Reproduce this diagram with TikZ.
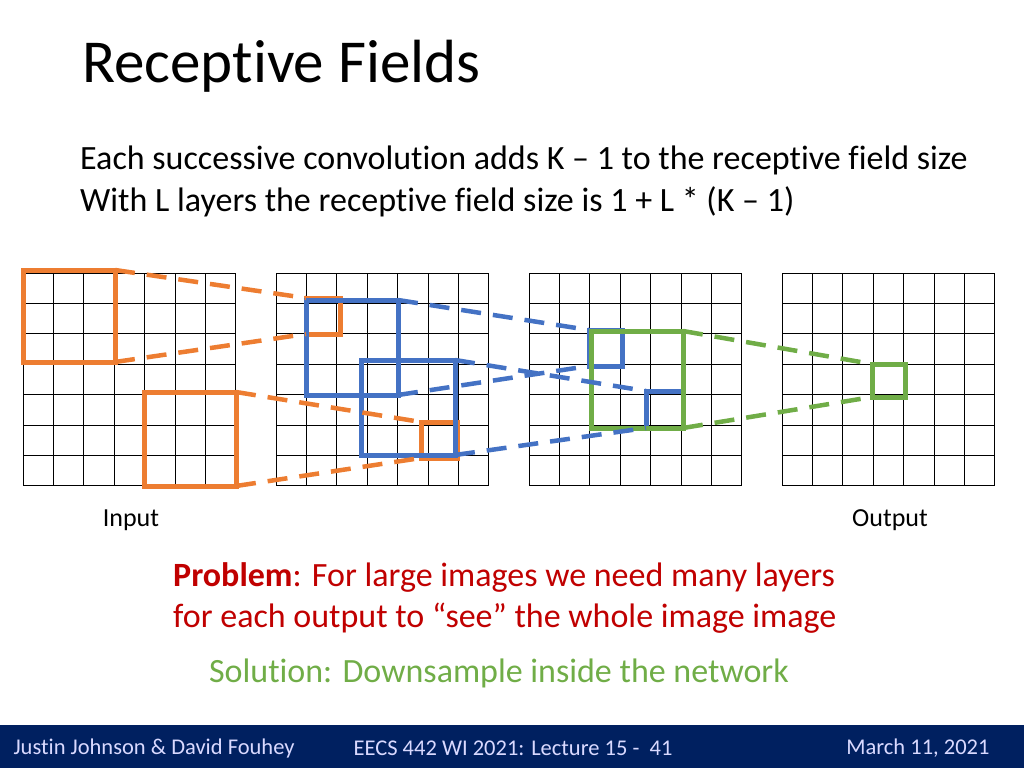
\documentclass[tikz,border=0pt]{standalone}
\usepackage{fontspec}
\setmainfont{Carlito}[RawFeature=-liga]
\definecolor{slideorange}{RGB}{237,125,49}
\definecolor{slideblue}{RGB}{68,114,196}
\definecolor{slidegreen}{RGB}{112,173,71}
\definecolor{slidered}{RGB}{192,0,0}
\definecolor{footerblue}{RGB}{0,32,96}
\usetikzlibrary{positioning}
\tikzset{
  gridline/.style={black, line width=1pt},
  field/.style={line width=5pt},
  link/.style={line width=4.5pt, dash pattern=on 20pt off 12pt},
  bodytext/.style={anchor=north west, align=left, font=\fontsize{34}{42}\selectfont, inner sep=0},
}
\begin{document}
\begin{tikzpicture}[x=1pt, y=-1pt]
  \useasboundingbox (0,0) rectangle (1024,768);

  \node [anchor=west, inner sep=0, font=\fontsize{61}{64}\selectfont] (title) at (82,66) {Receptive Fields};
  \node [bodytext] (body) at (80,146) {Each successive convolution adds K -- 1 to the receptive field size\\With L layers the receptive field size is 1 + L * (K -- 1)};

  % four 7x7 grids
  \foreach \gx in {23,276,529,782}
    \foreach \k in {0,...,7} {
      \draw [gridline] (\gx+\k*30.4,273) -- (\gx+\k*30.4,485.8);
      \draw [gridline] (\gx,273+\k*30.4) -- (\gx+212.8,273+\k*30.4);
    }

  % receptive fields (cells of 30.4)
  \draw [field, slideorange] (23,270) rectangle (115,362);
  \draw [field, slideorange] (144,392) rectangle (236,486);
  \draw [field, slideorange] (306,298) rectangle (340,334);
  \draw [field, slideorange] (421,422) rectangle (457,458);
  \draw [field, slideblue] (306,300) rectangle (398,395);
  \draw [field, slideblue] (361,360) rectangle (455,455);
  \draw [field, slideblue] (589,330) rectangle (622,366);
  \draw [field, slideblue] (646,391) rectangle (683,428);
  \draw [field, slidegreen] (591,331) rectangle (683,428);
  \draw [field, slidegreen] (872,364) rectangle (905,397);

  \coordinate (oa1) at (115,270); \coordinate (ob1) at (306,298);
  \coordinate (oa2) at (115,362); \coordinate (ob2) at (306,334);
  \coordinate (oc1) at (236,392); \coordinate (od1) at (421,422);
  \coordinate (oc2) at (236,486); \coordinate (od2) at (421,458);
  \coordinate (ba1) at (398,300); \coordinate (bb1) at (589,330);
  \coordinate (ba2) at (398,395); \coordinate (bb2) at (589,366);
  \coordinate (bc1) at (455,360); \coordinate (bd1) at (646,391);
  \coordinate (bc2) at (455,455); \coordinate (bd2) at (646,428);
  \coordinate (ga1) at (683,331); \coordinate (gb1) at (872,364);
  \coordinate (ga2) at (683,428); \coordinate (gb2) at (872,397);

  \foreach \a/\b in {oa1/ob1, oa2/ob2, oc1/od1, oc2/od2}
    \draw [link, slideorange] (\a) -- (\b);
  \foreach \a/\b in {ba1/bb1, ba2/bb2, bc1/bd1, bc2/bd2}
    \draw [link, slideblue] (\a) -- (\b);
  \foreach \a/\b in {ga1/gb1, ga2/gb2}
    \draw [link, slidegreen] (\a) -- (\b);

  \node [font=\fontsize{26}{30}\selectfont] (input) at (131,520) {Input};
  \node [font=\fontsize{26}{30}\selectfont] (output) at (890,520) {Output};

  \node [bodytext, slidered, font=\fontsize{34}{41}\selectfont] (problem) at (173,562)
    {\textbf{Problem}: For large images we need many layers\\for each output to “see” the whole image image};
  \node [slidegreen, font=\fontsize{34}{38}\selectfont] (solution) at (499,673) {Solution: Downsample inside the network};

  % footer
  \fill [footerblue] (0,725) rectangle (1024,768);
  \node [white!85!blue, anchor=west, font=\fontsize{22.5}{25}\selectfont] (authors) at (10,748) {Justin Johnson \& David Fouhey};
  \node [white!85!blue, font=\fontsize{22.5}{25}\selectfont] (lecture) at (513,748) {EECS 442 WI 2021: Lecture 15 -\ \ 41};
  \node [white!85!blue, anchor=east, font=\fontsize{22.5}{25}\selectfont] (date) at (993,748) {March 11, 2021};
\end{tikzpicture}
\end{document}
